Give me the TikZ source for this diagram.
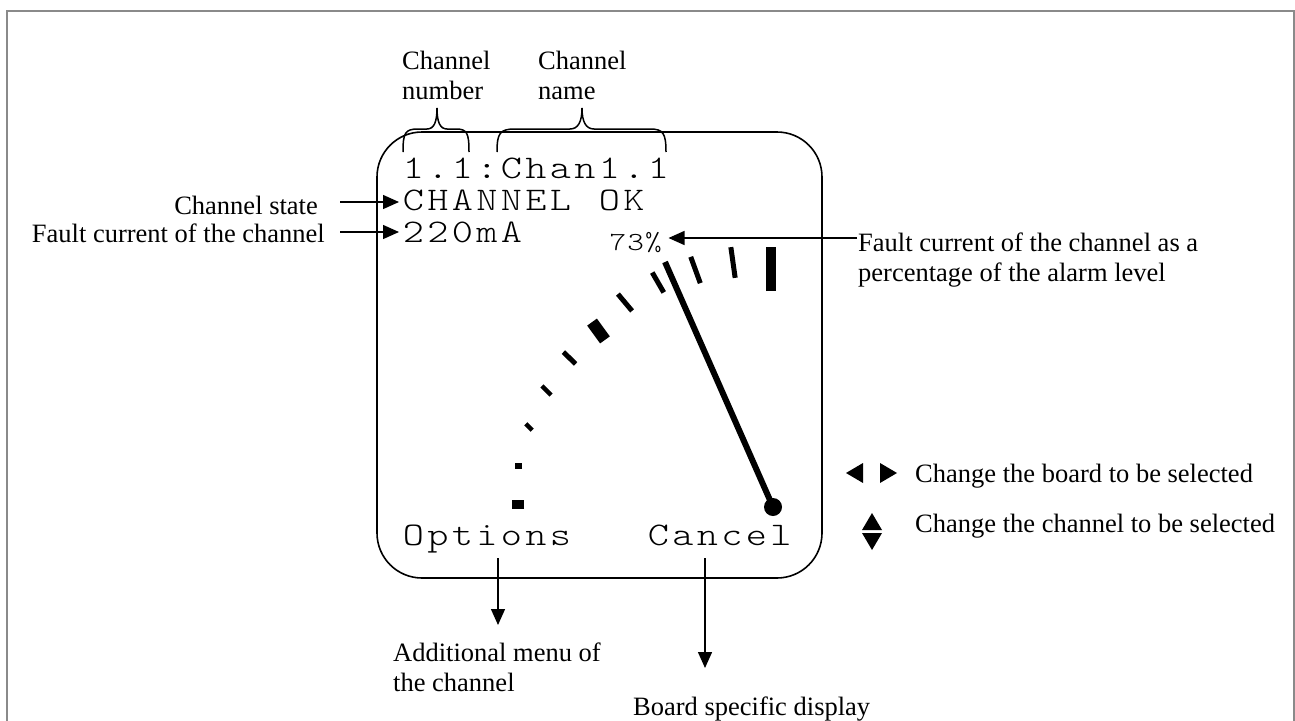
\documentclass[tikz,border=0pt]{standalone}
\usepackage{fontspec}
\usepackage{graphicx}
\setmainfont{Liberation Serif}
\newfontfamily\lcdfont{lmmonolt10-regular.otf}
\usetikzlibrary{arrows.meta}

% one character per fixed-width cell, like a dot-matrix display
\makeatletter
\newcommand\lcdrow[2]{\@tfor\lcd@tok:=#2\do{\makebox[#1][c]{\scalebox{1.22}[1]{\lcd@tok}}}}
\makeatother

\tikzset{
  lbl/.style={inner sep=0pt, font=\fontsize{26.5}{30}\selectfont},
  lcd/.style={inner sep=0pt, font=\lcdfont\fontsize{33}{33}\selectfont},
  lcdsmall/.style={inner sep=0pt, font=\lcdfont\fontsize{26}{26}\selectfont},
  arr/.style={line width=1.4pt, -{Triangle[length=16pt,width=14pt]}},
  outline/.style={line width=2pt, draw=black!46},
  bracepath/.style={line width=1.5pt},
  gaugemark/.style={line width=#1},
}

\newcommand\gmark[5]{% centre x, centre y, angle, length, width
  \draw[gaugemark=#5pt] (#1,#2) ++(#3:#4/2) -- ++(#3+180:#4);}

\begin{document}
\begin{tikzpicture}[x=1pt, y=-1pt, line cap=butt]
\useasboundingbox (0,0) rectangle (1295,720);

% outer frame
\draw[outline] (7,721) -- (7,10.5) -- (1294,10.5) -- (1294,721);

% display outline
\node[draw, line width=1.6pt, rounded corners=45pt, minimum width=445pt,
      minimum height=446pt, inner sep=0pt] (screen) at (599.5,355) {};

% display text
\node[lcd, anchor=base west] (row1) at (401,178) {\lcdrow{24.5pt}{1.1:Chan1.1}};
\node[lcd, anchor=base west] (row2) at (401,210) {\lcdrow{24.5pt}{CHANNEL~OK}};
\node[lcd, anchor=base west] (row3) at (401,242) {\lcdrow{24.5pt}{220mA}};
\node[lcd, anchor=base west] (row4) at (401,545) {\lcdrow{24.5pt}{Options~~~Cancel}};
\node[lcdsmall, anchor=base west] (pct) at (609,250) {\lcdrow{17.7pt}{73\%}};

% gauge scale
\gmark{518}{504.5}{0}{12}{9}
\gmark{518.5}{466}{0}{7}{6.5}
\gmark{529}{427}{45}{9}{4.5}
\gmark{546.5}{390.5}{45}{13}{4.5}
\gmark{569.5}{358}{44}{17}{5}
\gmark{598.5}{331}{54}{22}{12}
\gmark{625}{302.5}{50}{22}{5}
\gmark{658}{282.5}{60}{23}{5}
\gmark{695.5}{270}{70}{28}{5}
\gmark{733}{262.5}{82}{31}{5}
\gmark{771}{269}{90}{44}{10}

% needle
\coordinate (pivot) at (773,507);
\coordinate (needletip) at (665,262);
\draw[line width=6pt] (pivot) -- (needletip);
\fill (pivot) circle (9);

% braces over the first display row
\draw[bracepath] (403,152) .. controls (403,133) and (405,129) .. (418,129) -- (427,129)
  .. controls (434,129) and (437,122) .. (437,108)
  .. controls (437,122) and (440,129) .. (447,129) -- (456,129)
  .. controls (467,129) and (469,133) .. (469,152);
\draw[bracepath] (497,152) .. controls (497,133) and (500,129) .. (515,129) -- (570,129)
  .. controls (578,129) and (582,122) .. (582,108)
  .. controls (582,122) and (586,129) .. (594,129) -- (650,129)
  .. controls (663,129) and (666,133) .. (666,152);

% labels
\node[lbl, anchor=base west] (cnum) at (402,69)
  {\begin{tabular}[t]{@{}l@{}}Channel\\number\end{tabular}};
\node[lbl, anchor=base west] (cname) at (538,69)
  {\begin{tabular}[t]{@{}l@{}}Channel\\name\end{tabular}};
\node[lbl, anchor=base east] (cstate) at (318,214) {Channel state};
\node[lbl, anchor=base east] (fcur) at (325,242) {Fault current of the channel};
\node[lbl, anchor=base west] (fpct) at (858,251)
  {\begin{tabular}[t]{@{}l@{}}Fault current of the channel as a\\percentage of the alarm level\end{tabular}};
\node[lbl, anchor=base west] (addl) at (393,661)
  {\begin{tabular}[t]{@{}l@{}}Additional menu of\\the channel\end{tabular}};
\node[lbl, anchor=base west] (board) at (633,715) {Board specific display};
\node[lbl, anchor=base west] (keylr) at (915,482) {Change the board to be selected};
\node[lbl, anchor=base west] (keyud) at (915,532) {Change the channel to be selected};

% key symbols
\fill (846,473) -- (863,463) -- (863,483) -- cycle;
\fill (897,473) -- (880,463) -- (880,483) -- cycle;
\fill (872,513) -- (862,530) -- (882,530) -- cycle;
\fill (872,550) -- (862,533) -- (882,533) -- cycle;

% pointers
\coordinate (csFrom) at (340,202);
\coordinate (fcFrom) at (340,232);
\coordinate (pcFrom) at (857,238);
\coordinate (opFrom) at (498,558);
\coordinate (opTo)   at (498,625);
\coordinate (caFrom) at (705,558);
\coordinate (caTo)   at (705,668);
\draw[arr, shorten >=2pt] (csFrom) -- (csFrom -| row2.west);
\draw[arr, shorten >=2pt] (fcFrom) -- (fcFrom -| row3.west);
\draw[arr, shorten >=6pt] (pcFrom) -- (pcFrom -| pct.east);
\draw[arr] (opFrom) -- (opTo);
\draw[arr] (caFrom) -- (caTo);
\end{tikzpicture}
\end{document}
